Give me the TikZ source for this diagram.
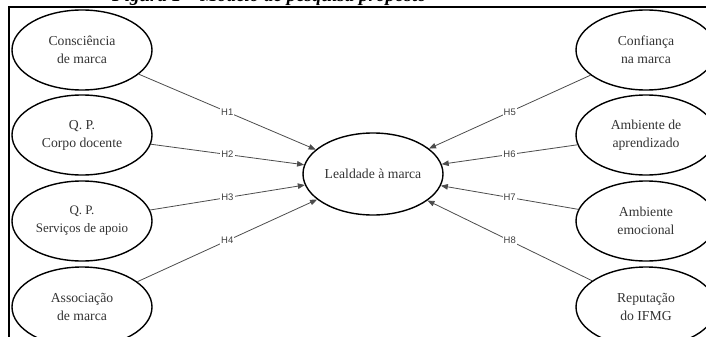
\documentclass[tikz,border=0pt]{standalone}
\usepackage{fontspec}
\setmainfont{Liberation Serif}
\newfontfamily\hypfont{Liberation Sans}
\usetikzlibrary{shapes.geometric,arrows.meta}
\begin{document}
\begin{tikzpicture}[x=1pt,y=-1pt,
  construct/.style={ellipse, draw=black, line width=1.4pt, minimum width=140pt,
    minimum height=80pt, inner sep=-10pt, align=center,
    font=\fontsize{13.7}{18}\selectfont, text=black!80},
  relpath/.style={draw=black!70, line width=0.8pt,
    -{Triangle[length=7pt,width=5.5pt]}},
  hyp/.style={fill=white, inner sep=1pt,
    font=\hypfont\fontsize{9.5}{11}\selectfont, text=black!75}
]
\useasboundingbox (0,0) rectangle (706,345);
% caption line, mostly above the page edge
\node[anchor=base west, inner sep=0pt,
  font=\bfseries\itshape\fontsize{19}{21}\selectfont] (caption) at (112,1.2)
  {Figura 1 – Modelo de pesquisa proposto};
\begin{scope}
\clip (0,0) rectangle (706,336);
% frame
\draw[line width=1.6pt] (9,345) -- (9,7) -- (706,7);
% constructs
\node[construct] (c1) at (82,50)  {Consciência\\de marca};
\node[construct] (c2) at (82,135) {Q. P.\\Corpo docente};
\node[construct, font=\fontsize{13}{18}\selectfont] (c3) at (82,221)
  {Q. P.\\Serviços de apoio};
\node[construct] (c4) at (82,307) {Associação\\de marca};
\node[construct] (r1) at (646,50)  {Confiança\\na marca};
\node[construct] (r2) at (646,135) {Ambiente de\\aprendizado};
\node[construct] (r3) at (646,221) {Ambiente\\emocional};
\node[construct] (r4) at (646,307) {Reputação\\do IFMG};
\node[construct, minimum height=82pt] (L) at (373,174) {Lealdade à marca};
% hypotheses
\draw[relpath] (c1) -- node[hyp] {H1} (L);
\draw[relpath] (c2) -- node[hyp] {H2} (L);
\draw[relpath] (c3) -- node[hyp] {H3} (L);
\draw[relpath] (c4) -- node[hyp] {H4} (L);
\draw[relpath] (r1) -- node[hyp] {H5} (L);
\draw[relpath] (r2) -- node[hyp] {H6} (L);
\draw[relpath] (r3) -- node[hyp] {H7} (L);
\draw[relpath] (r4) -- node[hyp] {H8} (L);
\end{scope}
\end{tikzpicture}
\end{document}
